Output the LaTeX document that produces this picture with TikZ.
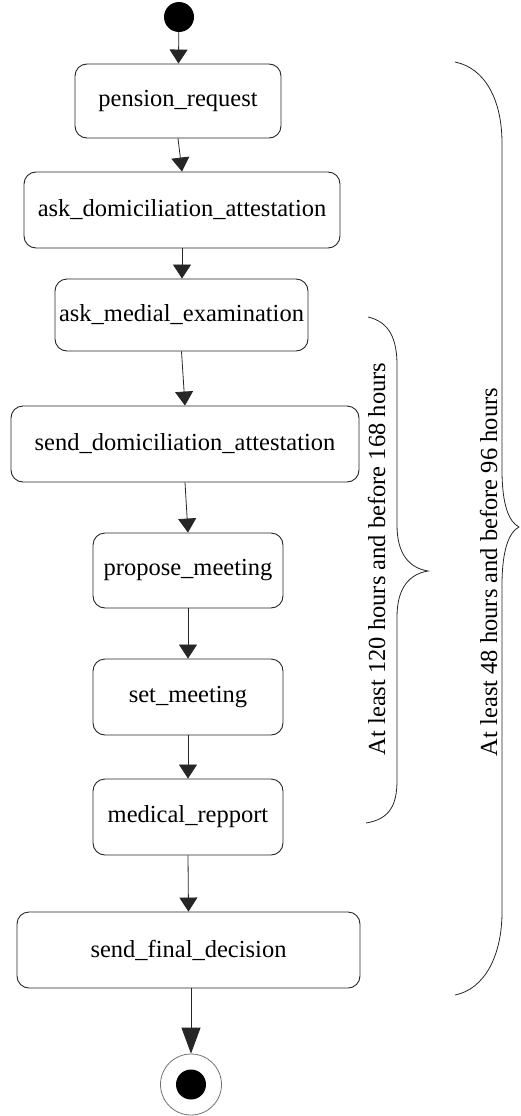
\documentclass[tikz,border=0pt]{standalone}
\usepackage{fontspec}
\setmainfont{Liberation Serif}
\usetikzlibrary{arrows.meta}
\tikzstyle{actbox} = [draw=black!85, line width=0.9pt, rectangle,
    rounded corners=12pt, inner sep=0pt, font=\fontsize{24.5}{28}\selectfont]
\tikzstyle{initstate} = [circle, fill=black, inner sep=0pt, minimum size=30pt]
\tikzstyle{finalstate} = [circle, draw=black!55, line width=0.8pt, inner sep=0pt, minimum size=61pt]
\tikzstyle{flow} = [draw=black!85, line width=0.8pt, -{Triangle[width=18pt,length=14pt]}]
\tikzstyle{brace} = [draw=black!85, line width=0.8pt]
\tikzstyle{note} = [rotate=90, anchor=base, inner sep=0pt, font=\fontsize{24.5}{28}\selectfont]

\begin{document}
\begin{tikzpicture}[x=1pt, y=-1pt]
\useasboundingbox (0,0) rectangle (521,1116);

% states
\node[initstate] (init) at (179,17) {};
\node[actbox, minimum width=206pt, minimum height=74pt] (pension) at (178,101) {pension\_request};
\node[actbox, minimum width=316pt, minimum height=76pt] (askdom) at (182,210) {ask\_domiciliation\_attestation};
\node[actbox, minimum width=253pt, minimum height=72pt] (askmed) at (181.5,315) {ask\_medial\_examination};
\node[actbox, minimum width=348pt, minimum height=76pt] (senddom) at (185,444) {send\_domiciliation\_attestation};
\node[actbox, minimum width=190pt, minimum height=75pt] (propose) at (188,570.5) {propose\_meeting};
\node[actbox, minimum width=190pt, minimum height=76pt] (setmeet) at (188,697) {set\_meeting};
\node[actbox, minimum width=190pt, minimum height=76pt] (medrep) at (188,817) {medical\_repport};
\node[actbox, minimum width=343pt, minimum height=76pt] (finaldec) at (188.5,950) {send\_final\_decision};
\node[finalstate] (endo) at (191,1084.5) {};
\node[initstate] (endi) at (endo) {};

% transitions
\draw[flow] (init) -- (pension);
\draw[flow] (pension.south) -- (askdom.north);
\draw[flow] (askdom.south) -- (askdom.south |- askmed.north);
\draw[flow] (askmed.south) -- (senddom.north);
\draw[flow] (senddom.south) -- (propose.north);
\draw[flow] (propose) -- (setmeet);
\draw[flow] (setmeet) -- (medrep);
\draw[flow] (medrep.south) -- (finaldec.north);
\draw[flow, -{Triangle[width=19pt,length=26pt]}] (finaldec.south -| endo.north) -- (endo.north);

% time constraints
\draw[brace] (368,317) .. controls (390,322) and (397,340) .. (397,365)
    -- (397,525) .. controls (397,555) and (410,568) .. (428,571)
    .. controls (410,574) and (397,587) .. (397,617)
    -- (397,780) .. controls (397,805) and (390,819) .. (366,823);
\node[note] (shortlbl) at (385,559) {At least 120 hours and before 168 hours};

\draw[brace] (455,62) .. controls (485,68) and (502,100) .. (502,143)
    -- (502,470) .. controls (502,505) and (509,522) .. (519,527)
    .. controls (509,532) and (502,550) .. (502,585)
    -- (502,912) .. controls (502,955) and (485,989) .. (455,995);
\node[note] (longlbl) at (497,572) {At least 48 hours and before 96 hours};
\end{tikzpicture}
\end{document}
